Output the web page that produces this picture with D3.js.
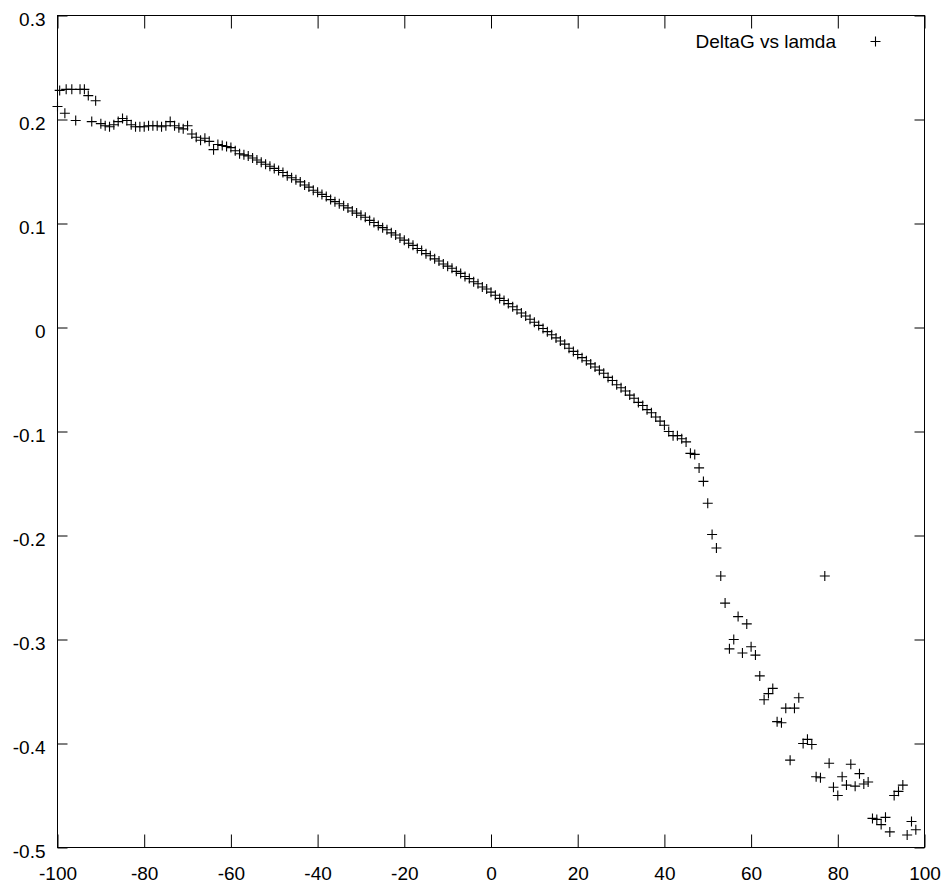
<!DOCTYPE html>
<html>
<head>
<meta charset="utf-8">
<script src="https://cdn.jsdelivr.net/npm/d3@7"></script>
<style>
  html, body { margin: 0; padding: 0; background: #fff; }
  svg { display: block; }
</style>
</head>
<body>
<svg id="chart" width="947" height="885"></svg>
<script>
// ---------- data ----------
const seriesName = "DeltaG vs lamda";

// noisy start of the run
const headLambda = [-100, -99.5, -98.3, -98, -96.7, -95.8, -94.8, -93.8, -92.9, -92.1, -91.2];
const headDeltaG = [0.2125, 0.228, 0.206, 0.229, 0.229, 0.199, 0.229, 0.229, 0.223, 0.198, 0.218];

// regular part, lambda = -90 .. 47 step 1
const mainLambdaStart = -90, mainLambdaEnd = 47;
const mainDeltaG = [
  0.196, 0.194, 0.193, 0.195, 0.198, 0.201, 0.199, 0.195, 0.193, 0.193,
  0.193, 0.194, 0.194, 0.194, 0.193, 0.194, 0.198, 0.194, 0.192, 0.191,
  0.194, 0.186, 0.183, 0.180, 0.182, 0.179, 0.171, 0.176, 0.175, 0.174,
  0.173, 0.170, 0.167, 0.166, 0.165, 0.163, 0.161, 0.159, 0.157, 0.155,
  0.153, 0.151, 0.149, 0.146, 0.144, 0.142, 0.140, 0.137, 0.135, 0.132,
  0.130, 0.128, 0.126, 0.123, 0.121, 0.119, 0.117, 0.115, 0.112, 0.110,
  0.108, 0.106, 0.103, 0.101, 0.098, 0.096, 0.094, 0.091, 0.089, 0.086,
  0.084, 0.081, 0.079, 0.076, 0.074, 0.071, 0.069, 0.066, 0.064, 0.061,
  0.059, 0.057, 0.054, 0.052, 0.049, 0.047, 0.044, 0.042, 0.039, 0.037,
  0.034, 0.031, 0.028, 0.026, 0.023, 0.020, 0.017, 0.014, 0.011, 0.008,
  0.005, 0.002, -0.001, -0.004, -0.007, -0.010, -0.013, -0.016, -0.020, -0.023,
  -0.026, -0.029, -0.032, -0.035, -0.038, -0.041, -0.044, -0.048, -0.051, -0.055,
  -0.058, -0.061, -0.065, -0.068, -0.072, -0.075, -0.079, -0.082, -0.086, -0.090,
  -0.094, -0.100, -0.104, -0.104, -0.107, -0.110, -0.121, -0.122
];

// scattered tail, lambda = 48 .. 98 step 1
const tailLambdaStart = 48, tailLambdaEnd = 98;
const tailDeltaG = [
  -0.135, -0.148, -0.169, -0.199, -0.212, -0.239, -0.265, -0.309, -0.300, -0.278,
  -0.313, -0.285, -0.307, -0.315, -0.335, -0.358, -0.352, -0.347, -0.379, -0.380,
  -0.366, -0.416, -0.366, -0.356, -0.400, -0.396, -0.401, -0.432, -0.433, -0.239,
  -0.419, -0.442, -0.450, -0.432, -0.440, -0.420, -0.441, -0.429, -0.439, -0.437,
  -0.472, -0.473, -0.478, -0.471, -0.485, -0.450, -0.446, -0.440, -0.488, -0.475, -0.483
];

const xTicks = [-100, -80, -60, -40, -20, 0, 20, 40, 60, 80, 100];
const xTickLabels = ["-100", "-80", "-60", "-40", "-20", "0", "20", "40", "60", "80", "100"];
const yTicks = [-0.5, -0.4, -0.3, -0.2, -0.1, 0, 0.1, 0.2, 0.3];
const yTickLabels = ["-0.5", "-0.4", "-0.3", "-0.2", "-0.1", "0", "0.1", "0.2", "0.3"];

// ---------- assemble points ----------
const mainLambda = d3.range(mainLambdaStart, mainLambdaEnd + 1);
const tailLambda = d3.range(tailLambdaStart, tailLambdaEnd + 1);
const points = [];
headLambda.forEach((l, i) => points.push({ x: l, y: headDeltaG[i] }));
mainLambda.forEach((l, i) => points.push({ x: l, y: mainDeltaG[i] }));
tailLambda.forEach((l, i) => points.push({ x: l, y: tailDeltaG[i] }));

// ---------- layout ----------
const svg = d3.select("#chart");
const plotLeft = 57.5, plotRight = 924.5, plotTop = 15.5, plotBottom = 847.5;
const FONT = "'Liberation Sans', Arial, 'DejaVu Sans', sans-serif";

svg.append("rect").attr("width", 947).attr("height", 885).attr("fill", "#fff");

const x = d3.scaleLinear().domain([-100, 100]).range([plotLeft, plotRight]);
const y = d3.scaleLinear().domain([-0.5, 0.3]).range([plotBottom, plotTop]);

function styleAxis(g) {
  g.select(".domain").remove();
  g.selectAll(".tick line").attr("stroke", "#000").attr("stroke-width", 1);
  g.selectAll(".tick text").attr("fill", "#000")
    .style("font-family", FONT).style("font-size", "19px");
}

// bottom axis with labels, ticks pointing inward
svg.append("g").attr("transform", `translate(0,${plotBottom})`)
  .call(d3.axisBottom(x).tickValues(xTicks)
    .tickFormat((d, i) => xTickLabels[i]).tickSize(-13).tickPadding(19))
  .call(styleAxis);

// top mirror ticks
svg.append("g").attr("transform", `translate(0,${plotTop})`)
  .call(d3.axisTop(x).tickValues(xTicks).tickFormat(() => "").tickSize(-13))
  .call(styleAxis);

// left axis with labels
svg.append("g").attr("transform", `translate(${plotLeft},0)`)
  .call(d3.axisLeft(y).tickValues(yTicks)
    .tickFormat((d, i) => yTickLabels[i]).tickSize(-10).tickPadding(12))
  .call(styleAxis)
  .call(g => g.selectAll(".tick text").attr("dy", "0.5em"));

// right mirror ticks
svg.append("g").attr("transform", `translate(${plotRight},0)`)
  .call(d3.axisRight(y).tickValues(yTicks).tickFormat(() => "").tickSize(-10))
  .call(styleAxis);

// frame
svg.append("rect")
  .attr("x", plotLeft).attr("y", plotTop)
  .attr("width", plotRight - plotLeft).attr("height", plotBottom - plotTop)
  .attr("fill", "none").attr("stroke", "#000").attr("stroke-width", 1);

// markers
const plus = "M-5,0H5M0,-5V5";
svg.append("g").selectAll("path.pt")
  .data(points)
  .join("path")
  .attr("class", "pt")
  .attr("transform", d => `translate(${x(d.x)},${y(d.y)})`)
  .attr("d", plus)
  .attr("fill", "none")
  .attr("stroke", "#000")
  .attr("stroke-width", 1.1);

// legend
const legend = svg.append("g");
legend.append("text")
  .attr("x", 836).attr("y", 48)
  .attr("text-anchor", "end")
  .style("font-family", FONT).style("font-size", "19px")
  .attr("fill", "#000")
  .text(seriesName);
legend.append("path")
  .attr("transform", "translate(875.5,41.5)")
  .attr("d", plus)
  .attr("fill", "none").attr("stroke", "#000").attr("stroke-width", 1.1);
</script>
</body>
</html>
